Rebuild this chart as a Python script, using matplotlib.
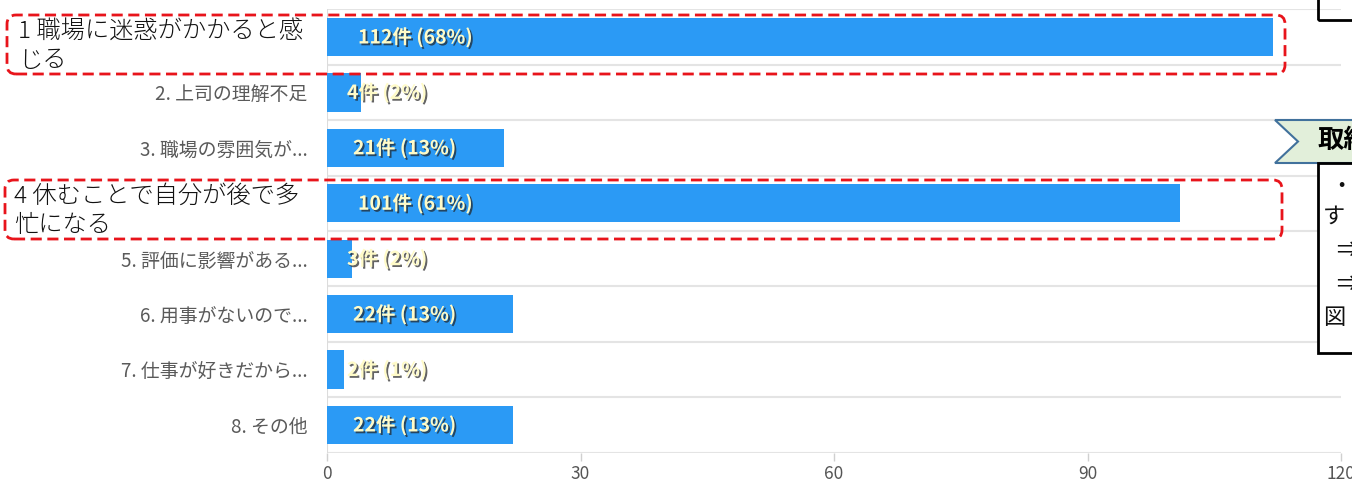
import matplotlib.pyplot as plt
import matplotlib.patheffects as pe
from matplotlib.patches import FancyBboxPatch, Rectangle, Polygon
from matplotlib.transforms import IdentityTransform

plt.rcParams['font.family'] = ['Noto Sans CJK JP', 'DejaVu Sans']

# data
labels = ['1. 職場に迷惑がかかると感じる', '2. 上司の理解不足', '3. 職場の雰囲気が...',
          '4. 休むことで自分が後で多忙になる', '5. 評価に影響がある...', '6. 用事がないので...',
          '7. 仕事が好きだから...', '8. その他']
counts = [112, 4, 21, 101, 3, 22, 2, 22]
percents = [68, 2, 13, 61, 2, 13, 1, 13]
highlight_1 = '1 職場に迷惑がかかると感\nじる'
highlight_4 = '4 休むことで自分が後で多\n忙になる'
xticks = [0, 30, 60, 90, 120]

W, H = 1352, 483
fig = plt.figure(figsize=(W / 100, H / 100), dpi=100)
ax = fig.add_axes([327 / W, 1 - 452.7 / H, (1341 - 327) / W, (452.7 - 9.3) / H])

y = list(range(len(counts)))
ax.barh(y, counts, height=0.69, color='#2B9AF5', zorder=3)
ax.set_xlim(0, 120)
ax.set_ylim(len(counts) - 0.5, -0.5)

# band separators
for k in range(len(counts) + 1):
    ax.axhline(k - 0.5, color='#e4e4e4', lw=1.5, zorder=1)
ax.axvline(0, color='#dcdcdc', lw=1.5, zorder=2)

for s in ax.spines.values():
    s.set_visible(False)
ax.set_xticks(xticks)
ax.set_xticklabels([str(t) for t in xticks], fontsize=12.5, color='#555555')
ax.tick_params(axis='x', length=6, width=1, color='#d0d0d0', pad=3)
ax.set_yticks(y)
ax.set_yticklabels(['' if i in (0, 3) else l for i, l in enumerate(labels)],
                   fontsize=13.6, color='#5a5a5a')
ax.tick_params(axis='y', length=0, pad=14)

# value labels on bars
shadow = [pe.SimplePatchShadow(offset=(1.3, -1.3), shadow_rgbFace='#222222', alpha=0.7), pe.Normal()]
offs = {1: 20, 2: 26, 3: 31}
for i, (c, p) in enumerate(zip(counts, percents)):
    ax.annotate(f'{c}件 ({p}%)', (0, i), xytext=(offs[len(str(c))], 0), textcoords='offset pixels',
                ha='left', va='center', fontsize=14, fontweight='bold', color='#FFFBC8',
                path_effects=shadow, zorder=5)

# highlighted labels and dashed red boxes
def px(x, yy):
    return x / W, 1 - yy / H

fig.text(*px(18, 46), highlight_1, fontsize=17.5, fontweight='light', color='#111111',
         va='center', ha='left', linespacing=1.25)
fig.text(*px(14, 211), highlight_4, fontsize=17.5, fontweight='light', color='#111111',
         va='center', ha='left', linespacing=1.25)

for x0, y0, x1, y1 in [(7, 15, 1285, 74), (5, 180, 1282, 239)]:
    box = FancyBboxPatch((x0, H - y1), x1 - x0, y1 - y0, boxstyle='round,pad=0,rounding_size=9',
                         transform=IdentityTransform(), fill=False, ec='#E8141B', lw=2,
                         ls=(0, (4, 2)), zorder=10)
    fig.add_artist(box)

# cut-off slide objects on the right
fig.add_artist(Rectangle((1318, H - 20), 60, 40, transform=IdentityTransform(),
                         fill=False, ec='black', lw=2))
rib = Polygon([(1275, H - 120), (1360, H - 120), (1360, H - 163), (1275, H - 163), (1298, H - 141.5)],
              closed=True, transform=IdentityTransform(), fc='#E2EFDA', ec='#41719C', lw=1.5)
fig.add_artist(rib)
fig.add_artist(Rectangle((1318, H - 353), 60, 190, transform=IdentityTransform(),
                         fc='white', ec='black', lw=2))
fig.text(*px(1317, 141), '取組', fontsize=19, fontweight='bold', color='black', va='center', ha='left')
for tx, ty, t in [(1330, 186, '・'), (1323, 216, 'す'), (1336, 250, '⇒'), (1336, 284, '⇒'), (1323, 318, '図')]:
    fig.text(*px(tx, ty), t, fontsize=16, color='#111111', va='center', ha='left')

fig.savefig('out.png', dpi=100)
